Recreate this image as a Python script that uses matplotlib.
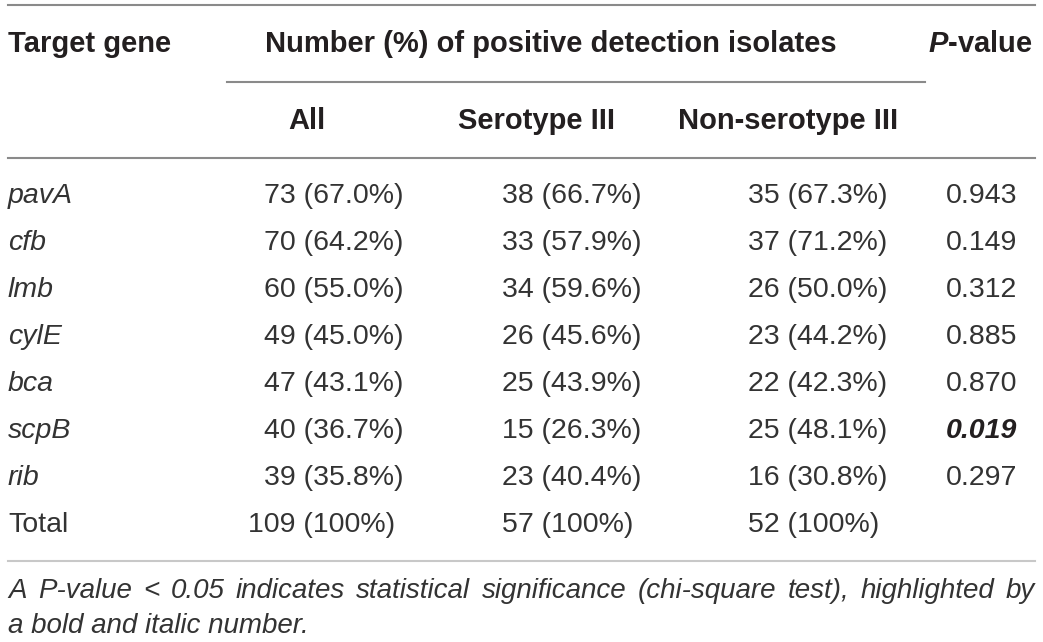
import matplotlib
matplotlib.use("Agg")
import matplotlib.pyplot as plt

# table content
genes = ["pavA", "cfb", "lmb", "cylE", "bca", "scpB", "rib"]
n_all = [73, 70, 60, 49, 47, 40, 39]
pct_all = [67.0, 64.2, 55.0, 45.0, 43.1, 36.7, 35.8]
n_sero = [38, 33, 34, 26, 25, 15, 23]
pct_sero = [66.7, 57.9, 59.6, 45.6, 43.9, 26.3, 40.4]
n_non = [35, 37, 26, 23, 22, 25, 16]
pct_non = [67.3, 71.2, 50.0, 44.2, 42.3, 48.1, 30.8]
p_values = ["0.943", "0.149", "0.312", "0.885", "0.870", "0.019", "0.297"]
significant = [False, False, False, False, False, True, False]
totals = [109, 57, 52]

header_top = ["Target gene", "Number (%) of positive detection isolates"]
header_sub = ["All", "Serotype III", "Non-serotype III"]
footnote = ["A P-value < 0.05 indicates statistical significance (chi-square test), highlighted by",
            "a bold and italic number."]

plt.rcParams["mathtext.fontset"] = "custom"
plt.rcParams["mathtext.bfit"] = "Liberation Sans:italic:bold"
plt.rcParams["mathtext.rm"] = "Liberation Sans"

W, H = 1043, 642
fig = plt.figure(figsize=(W / 100, H / 100), dpi=100)
ax = fig.add_axes([0, 0, 1, 1])
ax.set_xlim(0, W)
ax.set_ylim(H, 0)
ax.axis("off")

txt = "#231f20"
bold_font = dict(family="Liberation Sans", fontweight="bold", fontsize=21, color=txt)
body_font = dict(family="Liberation Sans", fontsize=20.5, color="#333333")

# rules
ax.plot([8, 1035], [5, 5], color="#8a8a8a", lw=1.5)
ax.plot([227, 925], [82, 82], color="#8a8a8a", lw=1.5)
ax.plot([8, 1035], [158, 158], color="#8a8a8a", lw=1.5)
ax.plot([8, 1035], [561, 561], color="#c8c8c8", lw=1.5)

# headers
ax.text(8, 44, header_top[0], ha="left", va="center", **bold_font)
ax.text(551, 44, header_top[1], ha="center", va="center", **bold_font)
ax.text(1033, 44, r"$\bfit{P}$" + "-value", ha="right", va="center", **bold_font)
for x, lab in zip([307, 537, 788], header_sub):
    ax.text(x, 121, lab, ha="center", va="center", **bold_font)

# body rows
row_y0, row_dy = 196, 47
digit_w = 16
for i, g in enumerate(genes):
    y = row_y0 + i * row_dy
    ax.text(8, y, g, ha="left", va="center", style="italic", **body_font)
    ax.text(248 + digit_w * (3 - len(str(n_all[i]))), y, f"{n_all[i]} ({pct_all[i]:.1f}%)",
            ha="left", va="center", **body_font)
    ax.text(502, y, f"{n_sero[i]} ({pct_sero[i]:.1f}%)", ha="left", va="center", **body_font)
    ax.text(748, y, f"{n_non[i]} ({pct_non[i]:.1f}%)", ha="left", va="center", **body_font)
    if significant[i]:
        ax.text(946, y, p_values[i], ha="left", va="center", family="Liberation Sans",
                fontweight="bold", style="italic", fontsize=20.5, color=txt)
    else:
        ax.text(946, y, p_values[i], ha="left", va="center", **body_font)

y = row_y0 + len(genes) * row_dy
ax.text(8, y, "Total", ha="left", va="center", **body_font)
for x, n in zip([248, 502, 748], totals):
    ax.text(x, y, f"{n} (100%)", ha="left", va="center", **body_font)

# footnote: shrink to fit if needed, then justify the first line
renderer = fig.canvas.get_renderer()
note_font = dict(family="Liberation Sans", style="italic", fontsize=20, color="#333333")
probe = ax.text(8, 591, footnote[0], ha="left", va="center", **note_font)
natural = probe.get_window_extent(renderer).width
probe.remove()
note_font["fontsize"] = min(20, 20 * 1020 / natural)
words = footnote[0].split(" ")
objs = [ax.text(0, 591, w, ha="left", va="center", **note_font) for w in words]
widths = [o.get_window_extent(renderer).width for o in objs]
gap = (1035 - 8 - sum(widths)) / (len(words) - 1)
x = 8
for o, w in zip(objs, widths):
    o.set_x(x)
    x += w + gap
ax.text(8, 626, footnote[1], ha="left", va="center", **note_font)

fig.savefig("out.png", dpi=100, facecolor="white")
